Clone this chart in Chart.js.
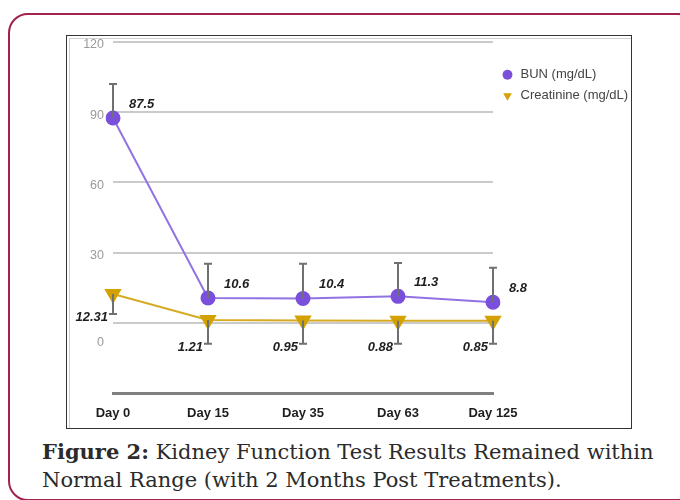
<!DOCTYPE html>
<html>
<head>
<meta charset="utf-8">
<script src="https://cdn.jsdelivr.net/npm/chart.js@4.4.1/dist/chart.umd.min.js"></script>
<style>
  html, body { margin: 0; padding: 0; background: #fff; width: 680px; height: 500px; overflow: hidden; }
  .card {
    position: absolute; left: 8px; top: 13px; width: 690px; height: 488px;
    border: 2px solid #a3214f; border-radius: 20px; box-sizing: border-box;
  }
  .box {
    position: absolute; left: 66px; top: 35px; width: 566px; height: 394px;
    border: 1px solid #333; box-sizing: border-box; background: #fff;
    box-shadow: inset 2px 2px 0 #fff, inset 3px 3px 0 #d0d0d0;
  }
  .box canvas { position: absolute; left: 0; top: -4px; }
  .caption {
    position: absolute; left: 42px; top: 438px;
    font-family: "DejaVu Serif", serif; font-size: 21px; line-height: 28px; color: #2b2b2b;
    white-space: nowrap;
  }
  .caption b { font-weight: bold; }
</style>
</head>
<body>
<div class="card"></div>
<div class="box"><canvas id="chart" width="568" height="396"></canvas></div>
<div class="caption"><b>Figure 2:</b> Kidney Function Test Results Remained within<br>Normal Range (with 2 Months Post Treatments).</div>
<script>
// values
const days = ['Day 0', 'Day 15', 'Day 35', 'Day 63', 'Day 125'];
const bun = [87.5, 10.6, 10.4, 11.3, 8.8];
const bunErrTop = [102, 25.2, 25.2, 25.6, 23.5];
const creatinine = [12.31, 1.21, 0.95, 0.88, 0.85];
const creatErrBottom = [3.8, -9, -9, -9, -9];
const yTicks = [120, 90, 60, 30, 0];

const sans = 'Arial, "Liberation Sans", sans-serif';

// error bars + value labels, drawn through the scales
const errorBars = {
  id: 'errorBars',
  afterDatasetsDraw(chart) {
    const { ctx, scales: { x, y } } = chart;
    const bars = [
      { vals: bun, ends: bunErrTop },
      { vals: creatinine, ends: creatErrBottom },
    ];
    ctx.save();
    ctx.strokeStyle = '#707070';
    ctx.lineWidth = 2;
    bars.forEach(b => {
      b.vals.forEach((v, i) => {
        const px = x.getPixelForValue(i);
        const y0 = y.getPixelForValue(v);
        const y1 = y.getPixelForValue(b.ends[i]);
        ctx.beginPath();
        ctx.moveTo(px, y0); ctx.lineTo(px, y1);
        ctx.moveTo(px - 4, y1); ctx.lineTo(px + 4, y1);
        ctx.stroke();
      });
    });

    ctx.fillStyle = '#1e1e1e';
    ctx.font = 'italic bold 13px ' + sans;
    ctx.textBaseline = 'middle';
    ctx.textAlign = 'left';
    bun.forEach((v, i) => {
      ctx.fillText(String(v), x.getPixelForValue(i) + 16, y.getPixelForValue(v) - 14);
    });
    ctx.textAlign = 'right';
    creatinine.forEach((v, i) => {
      ctx.fillText(String(v), x.getPixelForValue(i) - 5, y.getPixelForValue(creatErrBottom[i]) + 4);
    });
    ctx.restore();
  }
};

new Chart(document.getElementById('chart'), {
  type: 'line',
  data: {
    labels: days,
    datasets: [
      {
        label: 'BUN (mg/dL)',
        data: bun,
        borderColor: '#9273e4',
        borderWidth: 2,
        pointStyle: 'circle',
        pointRadius: 7.5,
        pointBackgroundColor: '#7a4fdb',
        pointBorderColor: '#7a4fdb',
        pointBorderWidth: 0,
      },
      {
        label: 'Creatinine (mg/dL)',
        data: creatinine,
        borderColor: '#d6aa22',
        borderWidth: 2,
        pointStyle: 'triangle',
        pointRotation: 180,
        pointRadius: 10,
        pointBackgroundColor: '#d4a200',
        pointBorderColor: '#d4a200',
        pointBorderWidth: 0,
      },
    ],
  },
  options: {
    responsive: false,
    animation: false,
    devicePixelRatio: 1,
    layout: { padding: { top: -2, right: 0, left: 0, bottom: 0 } },
    scales: {
      x: {
        offset: false,
        grid: { display: false, drawTicks: false },
        border: { display: true, color: '#808080', width: 3 },
        ticks: { color: '#1e1e1e', padding: 13, font: { family: sans, size: 13, weight: 'bold' } },
        afterFit(scale) { scale.height = 35; },
      },
      y: {
        min: -30,
        max: 120,
        afterBuildTicks(scale) {
          // the figure prints its "0" a little below the zero gridline
          scale.ticks = [-30, -7].concat(yTicks.slice().reverse()).map(v => ({ value: v }));
        },
        grid: {
          drawTicks: false,
          lineWidth: 2,
          color: ctx => (yTicks.includes(ctx.tick.value) ? '#cacaca' : 'rgba(0,0,0,0)'),
        },
        border: { display: false },
        ticks: {
          color: '#9a9a9a',
          padding: 9,
          labelOffset: 3,
          font: { family: sans, size: 12.5 },
          callback: v => (v === -7 ? '0' : (v === 0 || v === -30 ? '' : String(v))),
        },
        afterFit(scale) {
          scale.width = 46;
          scale.paddingTop = 0;
          scale.paddingBottom = 0;
        },
      },
    },
    plugins: {
      legend: {
        position: 'right',
        align: 'start',
        title: { display: true, text: ' ', font: { size: 1 }, padding: { top: 19, bottom: 10 } },
        labels: {
          usePointStyle: true,
          boxWidth: 13,
          boxHeight: 7,
          padding: 8,
          color: '#444',
          font: { family: sans, size: 13 },
        },
      },
      tooltip: { enabled: false },
    },
  },
  plugins: [errorBars],
});
</script>
</body>
</html>
